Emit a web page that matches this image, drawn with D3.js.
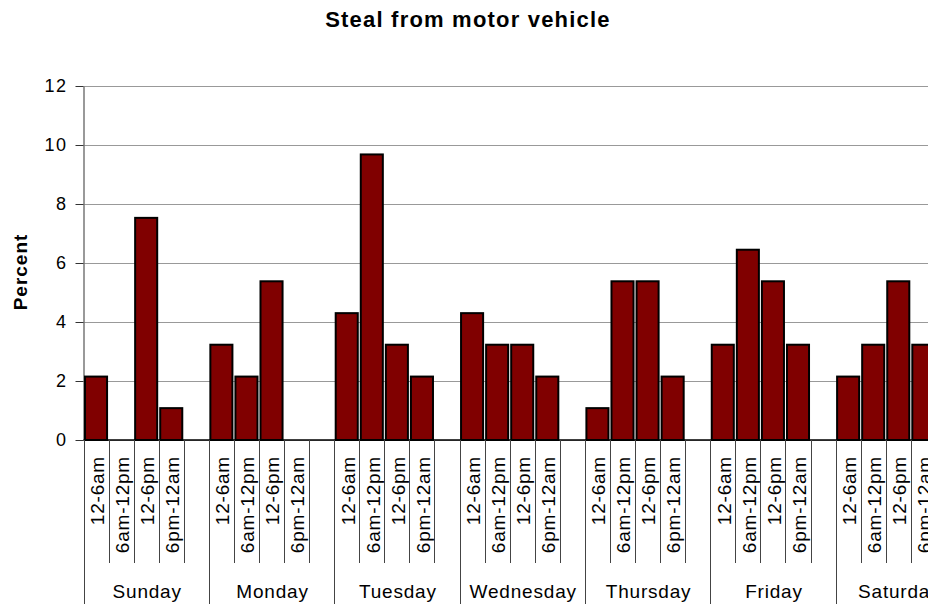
<!DOCTYPE html>
<html>
<head>
<meta charset="utf-8">
<script src="https://cdn.jsdelivr.net/npm/d3@7"></script>
<style>
  html, body { margin: 0; padding: 0; background: #fff; }
  svg { display: block; font-family: Arial, "Liberation Sans", sans-serif; }
</style>
</head>
<body>
<svg id="chart" width="928" height="604"></svg>
<script>
// categories
const days = ["Sunday", "Monday", "Tuesday", "Wednesday", "Thursday", "Friday", "Saturday"];
const periods = ["12-6am", "6am-12pm", "12-6pm", "6pm-12am"];

// percent per period, one array per day
const sunday    = [2.15, 0,    7.53, 1.08];
const monday    = [3.23, 2.15, 5.38, 0];
const tuesday   = [4.30, 9.68, 3.23, 2.15];
const wednesday = [4.30, 3.23, 3.23, 2.15];
const thursday  = [1.08, 5.38, 5.38, 2.15];
const friday    = [3.23, 6.45, 5.38, 3.23];
const saturday  = [2.15, 3.23, 5.38, 3.23];
const values = [sunday, monday, tuesday, wednesday, thursday, friday, saturday];

const yTicks = [0, 2, 4, 6, 8, 10, 12];

const svg = d3.select("#chart");
const W = 928, H = 604;

// each day = 4 periods + one empty slot
const slotKeys = [];
days.forEach(d => {
    periods.forEach(p => slotKeys.push(d + "|" + p));
    slotKeys.push(d + "|gap");
});

const left = 83.5;
const slotW = 25.07;
const x = d3.scaleBand()
    .domain(slotKeys)
    .range([left, left + slotKeys.length * slotW])
    .paddingInner(0.12)
    .paddingOuter(0.06);
// plain slot scale (no padding) for boundaries / labels
const xs = d3.scaleBand().domain(slotKeys).range([left, left + slotKeys.length * slotW]);

const y = d3.scaleLinear().domain([0, 12]).range([440, 86]);

const bars = [];
days.forEach((d, i) => {
    periods.forEach((p, j) => bars.push({ key: d + "|" + p, value: values[i][j] }));
});

// title
svg.append("text")
    .attr("x", 468).attr("y", 27)
    .attr("text-anchor", "middle")
    .style("font-size", "22px").style("font-weight", "bold")
    .style("letter-spacing", "1.2px")
    .text("Steal from motor vehicle");

// gridlines
svg.append("g")
    .attr("transform", `translate(${left},0)`)
    .call(d3.axisLeft(y).tickValues(yTicks).tickSize(-(W - left)).tickFormat(""))
    .call(g => g.select(".domain").remove())
    .call(g => g.selectAll("line").attr("stroke", "#999").attr("stroke-width", 1.2));

// y axis
svg.append("g")
    .attr("transform", `translate(${left},0)`)
    .call(d3.axisLeft(y).tickValues(yTicks).tickSize(8).tickPadding(8).tickSizeOuter(0))
    .call(g => g.select(".domain").attr("stroke", "#777").attr("stroke-width", 1.5))
    .call(g => g.selectAll("line").attr("stroke", "#333"))
    .call(g => g.selectAll("text").style("font-size", "18px").attr("fill", "#000")
        .style("letter-spacing", "1.5px")
        .style("font-family", "Arial, 'Liberation Sans', sans-serif"));

svg.append("text")
    .attr("transform", `translate(27,${(y(0) + y(12)) / 2 + 9}) rotate(-90)`)
    .attr("text-anchor", "middle")
    .style("font-size", "19px").style("font-weight", "bold")
    .style("letter-spacing", "1px")
    .text("Percent");

// bars
svg.append("g")
    .selectAll("rect")
    .data(bars.filter(b => b.value > 0))
    .join("rect")
    .attr("x", d => x(d.key))
    .attr("width", x.bandwidth())
    .attr("y", d => y(d.value))
    .attr("height", d => y(0) - y(d.value))
    .attr("fill", "#800000")
    .attr("stroke", "#000")
    .attr("stroke-width", 2);

// x axis line
svg.append("line")
    .attr("x1", left).attr("x2", W)
    .attr("y1", y(0)).attr("y2", y(0))
    .attr("stroke", "#000").attr("stroke-width", 1.5);

// slot boundaries: short ones inside a day, long ones between days
const sep = svg.append("g");
slotKeys.forEach((k, i) => {
    const bx = Math.round(xs(k)) + 0.5;
    const dayStart = i % 5 === 0;
    sep.append("line")
        .attr("x1", bx).attr("x2", bx)
        .attr("y1", y(0)).attr("y2", dayStart ? H : 563)
        .attr("stroke", "#444").attr("stroke-width", 1);
});

// period labels
const lab = svg.append("g").style("font-size", "19px").style("letter-spacing", "0.8px");
bars.forEach(b => {
    const cx = xs(b.key) + xs.bandwidth() / 2 + 1;
    lab.append("text")
        .attr("transform", `translate(${cx},456) rotate(-90)`)
        .attr("text-anchor", "end")
        .attr("dy", "0.36em")
        .text(b.key.split("|")[1]);
});

// day labels
days.forEach(d => {
    const x0 = xs(d + "|" + periods[0]);
    const x1 = xs(d + "|gap") + xs.bandwidth();
    svg.append("text")
        .attr("x", (x0 + x1) / 2 + 1)
        .attr("y", 598)
        .attr("text-anchor", "middle")
        .style("font-size", "19px").style("letter-spacing", "0.8px")
        .text(d);
});
</script>
</body>
</html>
